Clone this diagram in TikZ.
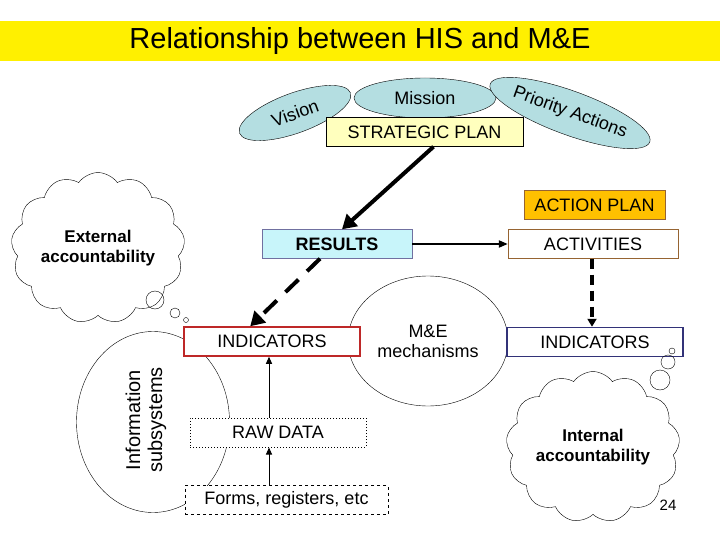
\documentclass[tikz,border=0pt]{standalone}
\usepackage{fontspec}
\setmainfont{Liberation Sans}
\usetikzlibrary{shapes.symbols,shapes.geometric,arrows.meta,calc}
\definecolor{ttl}{RGB}{255,240,0}
\definecolor{ell}{RGB}{180,222,225}
\definecolor{spf}{RGB}{255,255,190}
\definecolor{apf}{RGB}{255,192,0}
\definecolor{brn}{RGB}{150,100,50}
\definecolor{resf}{RGB}{200,245,250}
\definecolor{navy}{RGB}{50,50,120}
\definecolor{dred}{RGB}{190,40,40}
\tikzset{
 txt/.style={font=\fontsize{18}{20}\selectfont},
 bx/.style={draw,txt,minimum height=29pt,inner sep=0pt},
 ovl/.style={ellipse,draw,fill=ell,txt,inner sep=0pt},
 thk/.style={line width=4pt,-{Triangle[length=14pt,width=16pt]}},
 thn/.style={line width=1pt,-{Triangle[length=7pt,width=6pt]}},
 cld/.style={cloud,draw,cloud puffs=13,cloud puff arc=110,aspect=1.2,font=\bfseries\fontsize{17}{20}\selectfont,align=center,inner sep=0pt},
}
\begin{document}
\begin{tikzpicture}[x=1pt,y=-1pt]
\useasboundingbox (0,0) rectangle (720,540);
\fill[white] (0,0) rectangle (720,540);
\node[fill=ttl,minimum width=720pt,minimum height=40pt,inner sep=0pt,font=\fontsize{29}{32}\selectfont] (title) at (360,41) {Relationship between HIS and M\&E};
\node[ovl,minimum width=118pt,minimum height=40pt,rotate=20] (vis) at (295,113) {Vision};
\node[ovl,minimum width=142pt,minimum height=40pt] (mis) at (425,98) {Mission};
\node[ovl,minimum width=152pt,minimum height=44pt,rotate=-20] (pri) at (570,113) {Priority Actions};
\node[bx,fill=spf,minimum width=197pt] (sp) at (424.5,132) {STRATEGIC PLAN};
\node[bx,fill=apf,draw=brn,minimum width=141pt] (ap) at (594.5,205) {ACTION PLAN};
\node[bx,fill=resf,draw=navy!70,minimum width=150pt,font=\bfseries\fontsize{18}{20}\selectfont] (res) at (337,244) {RESULTS};
\node[bx,draw=brn,minimum width=170pt] (act) at (593,244) {ACTIVITIES};
\node[ellipse,draw,minimum width=160pt,minimum height=130pt,txt,align=center,inner sep=0pt] (me) at (428,341) {M\&E\\mechanisms};
\node[ellipse,draw,minimum width=153pt,minimum height=181pt,inner sep=0pt] (is) at (153,422) {};
\node[font=\fontsize{20}{22}\selectfont,rotate=90,align=center] (ist) at (146,420) {Information\\subsystems};
\node[bx,draw=dred,line width=1.5pt,fill=white,minimum width=176pt] (ind1) at (272,341.5) {INDICATORS};
\node[bx,draw=navy,line width=1.5pt,fill=white,minimum width=176pt] (ind2) at (595,342) {INDICATORS};
\node[bx,dotted,line width=1pt,fill=white,minimum width=176pt] (raw) at (278,432.5) {RAW DATA};
\node[bx,dashed,fill=white,minimum width=203pt] (frm) at (286.5,500) {Forms, registers, etc};
\node[cld,minimum width=150pt,minimum height=92pt] (ext) at (98,248) {External\\accountability};
\node[cld,minimum width=135pt,minimum height=120pt] (int) at (593,447) {Internal\\accountability};
\draw (155,300) circle (9);
\draw (175,313) circle (5);
\draw (186,320) circle (2.5);
\draw (660,380) circle (10);
\draw (668,362) circle (7);
\draw (672,351) circle (3);
\node[font=\fontsize{15}{17}\selectfont] (pg) at (668,505) {24};
\draw[thk] ($(sp.south)+(9,0)$) -- ($(res.north)+(5,0)$);
\draw[thk,dash pattern=on 18pt off 12pt] ($(res.south)+(-17,0)$) -- ($(ind1.north west)+(67,0)$);
\draw[line width=2pt,-{Triangle[length=9pt,width=7pt]}] (res.east) -- (act.west);
\draw[line width=3.5pt,dash pattern=on 10pt off 6pt,-{Triangle[length=8pt,width=9pt]}] ($(act.south)+(-1,0)$) -- ($(ind2.north)+(-3,0)$);
\draw[thn] ($(raw.north)+(-9,0)$) -- ($(ind1.south)+(-3,0)$);
\draw[thn] ($(frm.north)+(-17.5,0)$) -- ($(raw.south)+(-9,0)$);
\end{tikzpicture}
\end{document}
